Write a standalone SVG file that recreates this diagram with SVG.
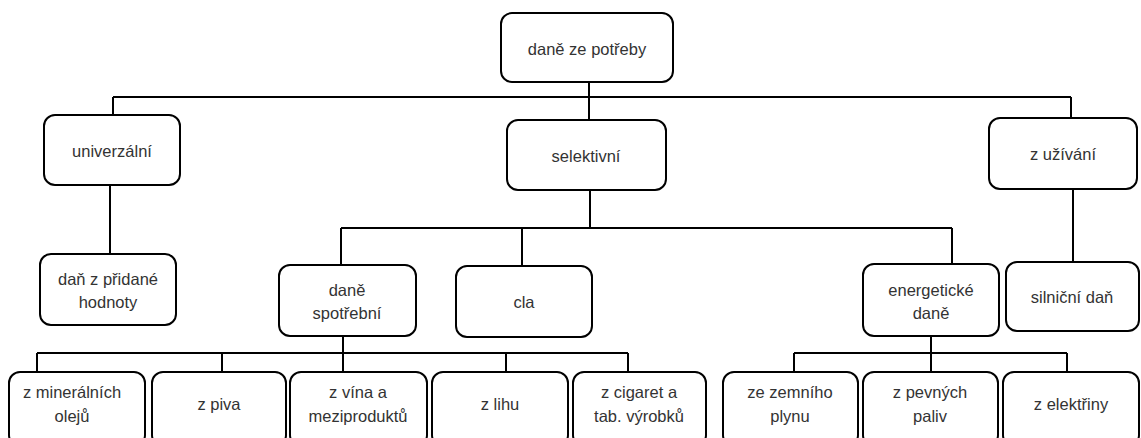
<svg xmlns="http://www.w3.org/2000/svg" width="1141" height="438" viewBox="0 0 1141 438">
<style>
.box{fill:#fff;stroke:#000;stroke-width:2}
.ln{fill:none;stroke:#000;stroke-width:2}
text{font-family:"Liberation Sans",Arial,sans-serif;font-size:16.5px;fill:#333;text-anchor:middle}
</style>
<rect width="1141" height="438" fill="#fff"/>
<g id="connectors" class="ln">
<path d="M589 82V97M113 97H1071M113 97V115M589 97V120M1071 97V118"/>
<path d="M110 185V254"/>
<path d="M590 190V228M341 228H952M341 228V265M522 228V266M952 228V264"/>
<path d="M1073 189V262"/>
<path d="M343 336V353M37 353H628M37 353V372M222 353V372M343 353V372M506 353V372M628 353V372"/>
<path d="M931 336V353M794 353H1067M794 353V372M931 353V372M1067 353V372"/>
</g>
<g id="root"><rect class="box" x="501" y="13" width="172" height="69" rx="11"/><text x="587" y="55">daně ze potřeby</text></g>
<g id="univerzalni"><rect class="box" x="44" y="115" width="136" height="70" rx="11"/><text x="112" y="157">univerzální</text></g>
<g id="selektivni"><rect class="box" x="507" y="120" width="159" height="70" rx="11"/><text x="586" y="162">selektivní</text></g>
<g id="z-uzivani"><rect class="box" x="989" y="118" width="148" height="71" rx="11"/><text x="1063" y="160">z užívání</text></g>
<g id="dph"><rect class="box" x="40" y="254" width="136" height="71" rx="11"/><text x="108" y="285">daň z přidané</text><text x="108" y="308">hodnoty</text></g>
<g id="dane-spotrebni"><rect class="box" x="279" y="265" width="137" height="71" rx="11"/><text x="347" y="296">daně</text><text x="347" y="319">spotřební</text></g>
<g id="cla"><rect class="box" x="456" y="266" width="136" height="71" rx="11"/><text x="524" y="308">cla</text></g>
<g id="energeticke"><rect class="box" x="863" y="264" width="136" height="72" rx="11"/><text x="931" y="296">energetické</text><text x="931" y="319">daně</text></g>
<g id="silnicni"><rect class="box" x="1006" y="262" width="133" height="69" rx="11"/><text x="1072" y="303">silniční daň</text></g>
<g id="mineralni"><rect class="box" x="9" y="372" width="136" height="74" rx="11"/><text x="72" y="398">z minerálních</text><text x="72" y="422">olejů</text></g>
<g id="piva"><rect class="box" x="152" y="372" width="134" height="74" rx="11"/><text x="219" y="410">z piva</text></g>
<g id="vina"><rect class="box" x="290" y="372" width="137" height="74" rx="11"/><text x="358" y="398">z vína a</text><text x="358" y="422">meziproduktů</text></g>
<g id="lihu"><rect class="box" x="432" y="372" width="136" height="74" rx="11"/><text x="500" y="410">z lihu</text></g>
<g id="cigaret"><rect class="box" x="573" y="372" width="133" height="74" rx="11"/><text x="639" y="398">z cigaret a</text><text x="639" y="422">tab. výrobků</text></g>
<g id="plyn"><rect class="box" x="723" y="372" width="135" height="74" rx="11"/><text x="790" y="398">ze zemního</text><text x="790" y="422">plynu</text></g>
<g id="paliva"><rect class="box" x="863" y="372" width="135" height="74" rx="11"/><text x="930" y="398">z pevných</text><text x="930" y="422">paliv</text></g>
<g id="elektrina"><rect class="box" x="1003" y="372" width="136" height="74" rx="11"/><text x="1071" y="410">z elektřiny</text></g>
</svg>
